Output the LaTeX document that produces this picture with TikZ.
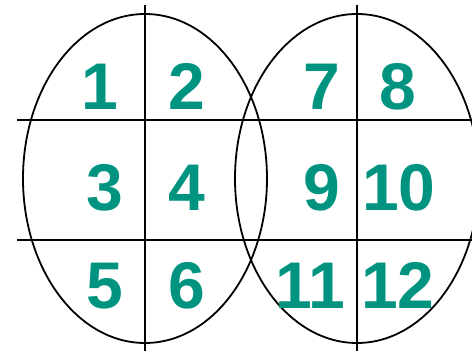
\documentclass[tikz,border=0pt]{standalone}
\usepackage{fontspec}
\setmainfont{Liberation Sans}
\definecolor{tealnum}{RGB}{0,148,128}
\begin{document}
\begin{tikzpicture}[x=1pt,y=1pt,
  num/.style={text=tealnum, font=\fontsize{66}{66}\selectfont\bfseries, inner sep=0pt, anchor=base},
  lin/.style={line width=1.8pt, black}]
\useasboundingbox (0,0) rectangle (472,351);
\clip (0,0) rectangle (472,351);
% ellipses
\draw[lin] (145,172.5) ellipse [x radius=122, y radius=164.5];
\draw[lin] (357,172.5) ellipse [x radius=122, y radius=164.5];
% grid lines
\coordinate (v1t) at (145,346); \coordinate (v1b) at (145,0);
\coordinate (v2t) at (357,346); \coordinate (v2b) at (357,0);
\coordinate (h1l) at (17,231); \coordinate (h1r) at (472,231);
\coordinate (h2l) at (17,111); \coordinate (h2r) at (472,111);
\draw[lin] (v1t) -- (v1b);
\draw[lin] (v2t) -- (v2b);
\draw[lin] (h1l) -- (h1r);
\draw[lin] (h2l) -- (h2r);
% numbers
\node[num] (n1) at (100,241) {1};
\node[num] (n2) at (187,241) {2};
\node[num] (n7) at (322,241) {7};
\node[num] (n8) at (398,241) {8};
\node[num] (n3) at (105,140.3) {3};
\node[num] (n4) at (187,140.3) {4};
\node[num] (n9) at (322,140.3) {9};
\node[num] (n10) at (399,140.3) {10};
\node[num] (n5) at (105,42) {5};
\node[num] (n6) at (187,42) {6};
\node[num] (n11) at (310,42) {11};
\node[num] (n12) at (398,42) {12};
\end{tikzpicture}
\end{document}
